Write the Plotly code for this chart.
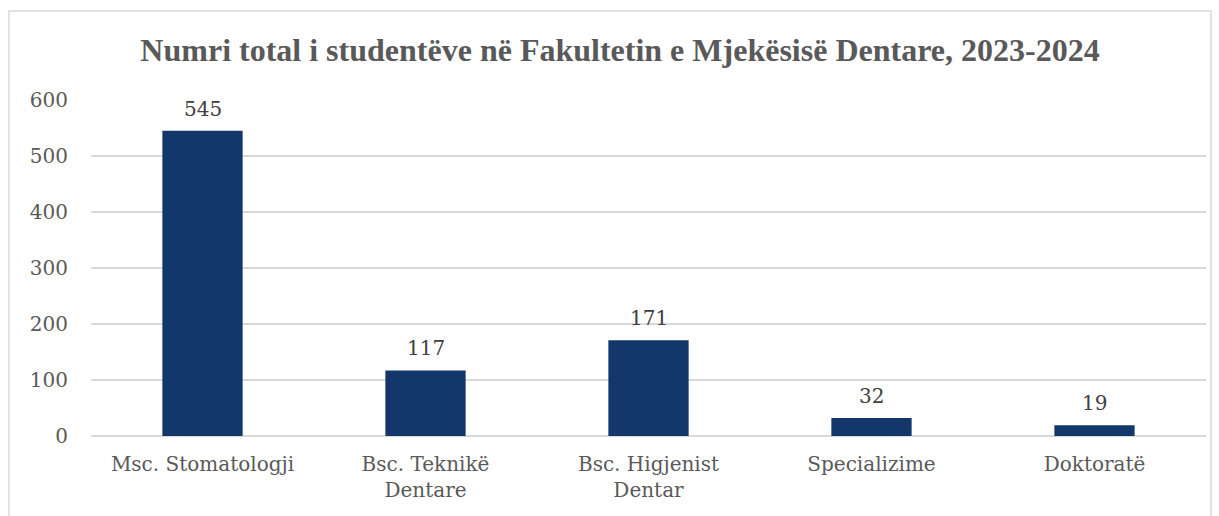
import plotly.graph_objects as go

categories = ["Msc. Stomatologji", "Bsc. Teknikë<br>Dentare", "Bsc. Higjenist<br>Dentar", "Specializime", "Doktoratë"]
values = [545, 117, 171, 32, 19]
y_ticks = [0, 100, 200, 300, 400, 500, 600]

serif = "Georgia, 'DejaVu Serif', serif"

fig = go.Figure(go.Bar(
    x=categories, y=values,
    marker=dict(color="#13376A", line=dict(width=0)),
    cliponaxis=False,
))

annotations = [
    dict(x=c, y=v, xref="x", yref="y", text=str(v), showarrow=False,
         yanchor="bottom", yshift=8,
         font=dict(family=serif, size=20, color="#404040"))
    for c, v in zip(categories, values)
]

fig.update_layout(
    width=1219, height=516,
    margin=dict(l=91, r=13, t=100, b=80),
    paper_bgcolor="white", plot_bgcolor="white",
    bargap=0.64,
    showlegend=False,
    annotations=annotations,
    title=dict(
        text="<b>Numri total i studentëve në Fakultetin e Mjekësisë Dentare, 2023-2024</b>",
        font=dict(family="'Liberation Serif', 'Times New Roman', serif", size=32, color="#595959"),
        x=620/1219, xanchor="center", xref="container",
        y=1 - 50/516, yanchor="middle", yref="container",
    ),
    xaxis=dict(
        tickfont=dict(family=serif, size=20, color="#595959"),
        showgrid=False, showline=False, ticks="", ticklabelstandoff=14,
    ),
    yaxis=dict(
        range=[0, 600], tickvals=y_ticks,
        tickfont=dict(family=serif, size=20, color="#595959"),
        showgrid=True, gridcolor="#D9D9D9", gridwidth=1.5,
        zeroline=True, zerolinecolor="#D9D9D9", zerolinewidth=1.5,
        showline=False, ticks="", ticklabelstandoff=22,
    ),
    shapes=[dict(
        type="rect", xref="paper", yref="paper",
        x0=(9 - 91) / 1115, x1=(1211 - 91) / 1115,
        y0=(436 - 530) / 336, y1=(436 - 11) / 336,
        line=dict(color="#D9D9D9", width=1.5), fillcolor="rgba(0,0,0,0)", layer="below",
    )],
)

fig.write_html("out.html", config={"displayModeBar": False},
               post_script="document.body.style.margin='0';document.body.style.overflow='hidden';")
